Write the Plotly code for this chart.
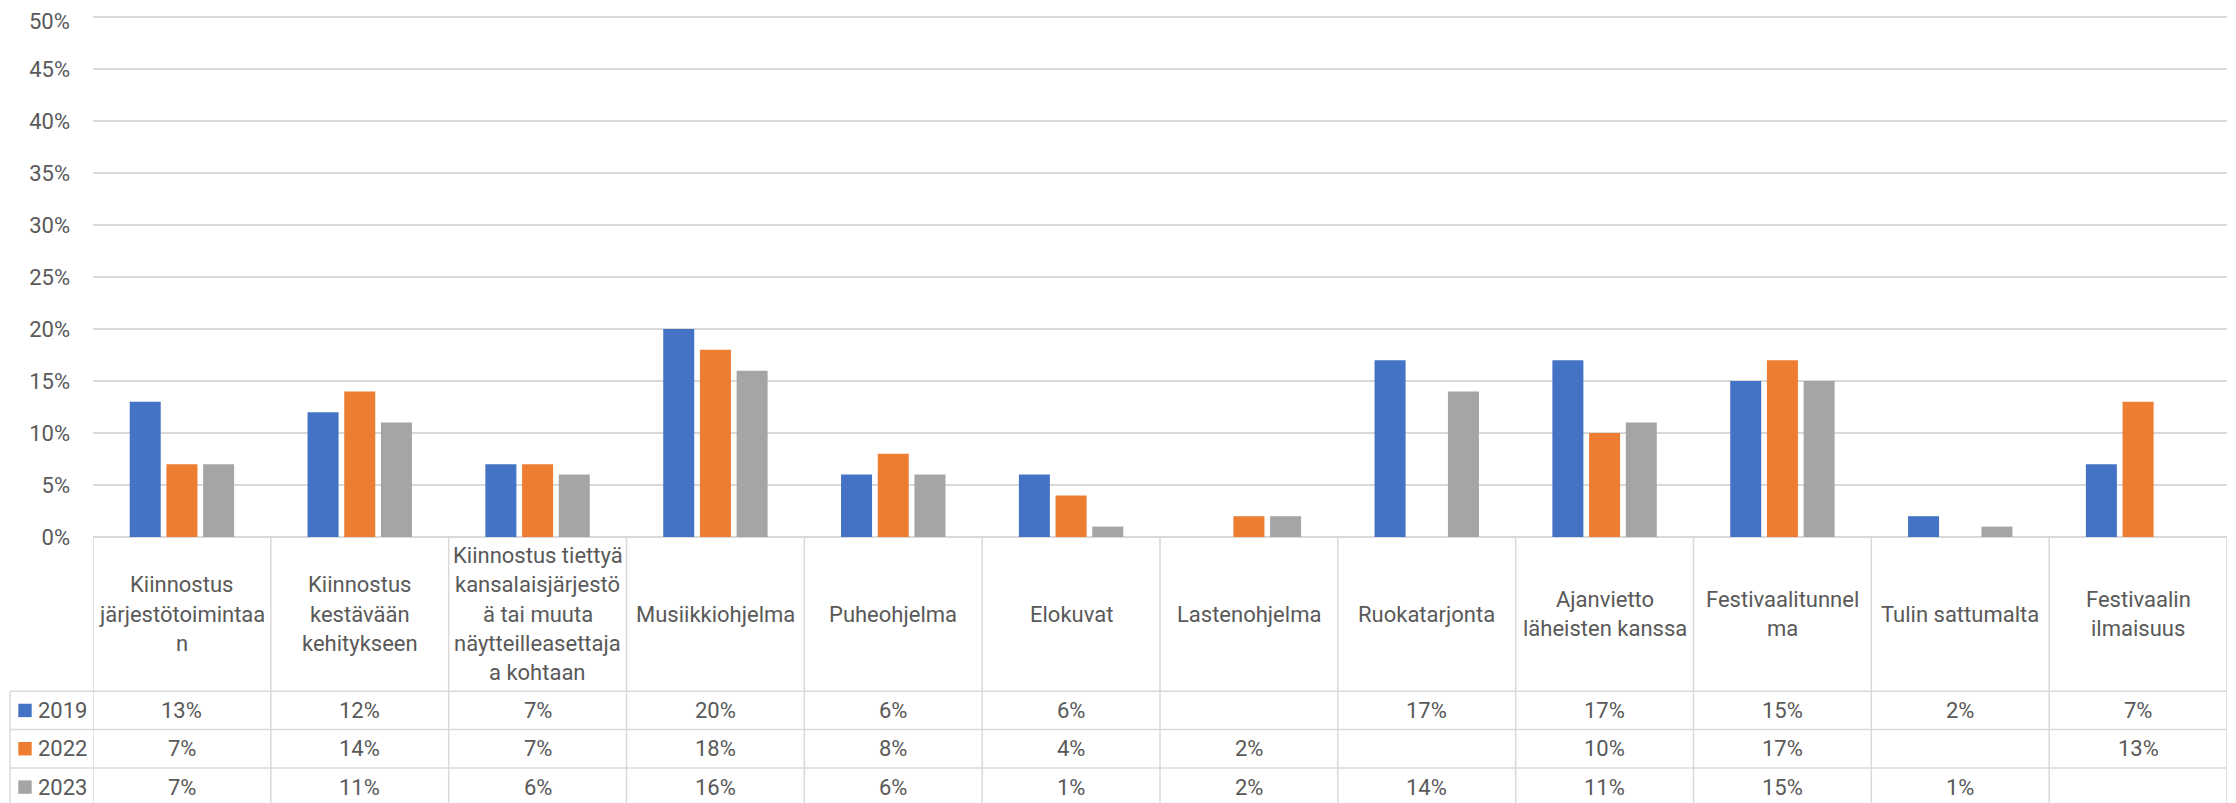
import plotly.graph_objects as go

categories = [
    ["Kiinnostus", "järjestötoimintaa", "n"],
    ["Kiinnostus", "kestävään", "kehitykseen"],
    ["Kiinnostus tiettyä", "kansalaisjärjestö", "ä tai muuta", "näytteilleasettaja", "a kohtaan"],
    ["Musiikkiohjelma"],
    ["Puheohjelma"],
    ["Elokuvat"],
    ["Lastenohjelma"],
    ["Ruokatarjonta"],
    ["Ajanvietto", "läheisten kanssa"],
    ["Festivaalitunnel", "ma"],
    ["Tulin sattumalta"],
    ["Festivaalin", "ilmaisuus"],
]
series_names = ["2019", "2022", "2023"]
values_2019 = [13, 12, 7, 20, 6, 6, None, 17, 17, 15, 2, 7]
values_2022 = [7, 14, 7, 18, 8, 4, 2, None, 10, 17, None, 13]
values_2023 = [7, 11, 6, 16, 6, 1, 2, 14, 11, 15, 1, None]
series_values = [values_2019, values_2022, values_2023]
colors = ["#4472C4", "#ED7D31", "#A5A5A5"]
y_ticks = [0, 5, 10, 15, 20, 25, 30, 35, 40, 45, 50]

# page body has an 8px default margin; figure is sized so it fills the window
OFF = 8
W, H = 2236 - OFF, 803 - OFF
YMAX = 0.502
PH = 520 * YMAX / 0.5
L, R, B = 93 - OFF, 9, 266
T = H - B - PH
PW = W - L - R
FONT = "Roboto, Arial, sans-serif"
TXT = "#595959"
GRID = "#D9D9D9"


def px_x(px):
    # px given in window coordinates
    return (px - OFF - L) / PW


def px_y(py):
    return (T + PH - (py - OFF)) / PH


n = len(categories)
xs = list(range(n))

fig = go.Figure()
for name, vals, col in zip(series_names, series_values, colors):
    fig.add_trace(go.Bar(
        x=xs,
        y=[None if v is None else v / 100 for v in vals],
        name=name,
        marker=dict(color=col, line=dict(width=0)),
    ))

shapes = []
# vertical lines of the data table
for i in range(n + 1):
    shapes.append(dict(type="line", xref="x", yref="paper", x0=i - 0.5, x1=i - 0.5,
                       y0=0, y1=px_y(820), line=dict(color=GRID, width=1.5)))
# legend column left border
shapes.append(dict(type="line", xref="paper", yref="paper", x0=px_x(10), x1=px_x(10),
                   y0=px_y(691.3), y1=px_y(820), line=dict(color=GRID, width=1.5)))
row_tops = [691.3, 729.6, 768.0]
row_h = 38.3
for yt in row_tops:
    shapes.append(dict(type="line", xref="paper", yref="paper", x0=px_x(10), x1=px_x(2227),
                       y0=px_y(yt), y1=px_y(yt), line=dict(color=GRID, width=1.5)))

annotations = []
# top y tick label (plotly hides it since it touches the figure edge)
top_tick = y_ticks[-1]
annotations.append(dict(x=px_x(70.5), y=px_y(OFF), xref="paper", yref="paper",
                        text=f"{top_tick}%", showarrow=False, xanchor="right",
                        yanchor="top", borderpad=0,
                        font=dict(family=FONT, size=22, color=TXT)))
# category header labels
head_center = (537 + 691.3) / 2
line_h = 29.2
for i, lines in enumerate(categories):
    k = len(lines)
    for j, ln in enumerate(lines):
        yc = head_center + (j - (k - 1) / 2) * line_h
        annotations.append(dict(x=i, y=px_y(yc), xref="x", yref="paper", text=ln,
                                showarrow=False, xanchor="center", yanchor="middle",
                                font=dict(family=FONT, size=22, color=TXT)))
# table values and legend keys
for r, (name, vals, col) in enumerate(zip(series_names, series_values, colors)):
    yc = row_tops[r] + row_h / 2
    for i, v in enumerate(vals):
        if v is None:
            continue
        annotations.append(dict(x=i, y=px_y(yc), xref="x", yref="paper", text=f"{v}%",
                                showarrow=False, xanchor="center", yanchor="middle",
                                font=dict(family=FONT, size=22, color=TXT)))
    shapes.append(dict(type="rect", xref="paper", yref="paper", x0=px_x(18.3), x1=px_x(31.7),
                       y0=px_y(yc - 6.7), y1=px_y(yc + 6.7), fillcolor=col, line=dict(width=0)))
    annotations.append(dict(x=px_x(36), y=px_y(yc), xref="paper", yref="paper", text=name,
                            showarrow=False, xanchor="left", yanchor="middle",
                            font=dict(family=FONT, size=22, color=TXT)))

fig.update_layout(
    width=W, height=H,
    margin=dict(l=L, r=R, t=T, b=B, pad=0, autoexpand=False),
    barmode="group",
    bargap=0.381,
    bargroupgap=0.155,
    showlegend=False,
    plot_bgcolor="white",
    paper_bgcolor="white",
    shapes=shapes,
    annotations=annotations,
    xaxis=dict(range=[-0.5, n - 0.5], showticklabels=False, showgrid=False,
               zeroline=False, showline=False, ticks=""),
    yaxis=dict(range=[0, YMAX], tickvals=[t / 100 for t in y_ticks],
               ticktext=[f"{t}%" if t != top_tick else "" for t in y_ticks],
               showgrid=True, gridcolor=GRID, gridwidth=1.5,
               zeroline=True, zerolinecolor=GRID, zerolinewidth=1.5,
               showline=False, ticks="", ticklabelstandoff=22,
               tickfont=dict(family=FONT, size=22, color=TXT)),
)

fig.write_html("out.html")
